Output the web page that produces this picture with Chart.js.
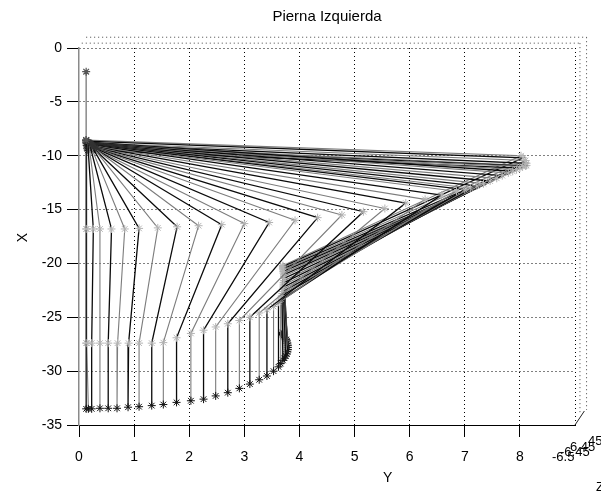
<!DOCTYPE html>
<html>
<head>
<meta charset="utf-8">
<script src="https://cdn.jsdelivr.net/npm/chart.js@4.4.0/dist/chart.umd.min.js"></script>
<style>
html,body{margin:0;padding:0;background:#fff;}
#wrap{width:601px;height:493px;position:relative;}
</style>
</head>
<body>
<div id="wrap"><canvas id="c" width="601" height="493"></canvas></div>
<script>
// ---- data (horizontal = Y, vertical = X) ----
const trunkX = [0.13, 0.13];
const trunkY = [-2.2, -8.55];

const hipX   = [0.13,0.14,0.16,0.18,0.20,0.22,0.25,0.27,0.28,0.30,0.30,0.30,0.30,0.29,0.28,0.27,0.26,0.25,0.24,0.23,0.22,
                0.21,0.21,0.20,0.20,0.19,0.19,0.18,0.18,0.17,0.17,0.16,0.16,0.15,0.15,0.14,0.14,0.13,0.13,0.13];
const hipY   = [-8.55,-8.8,-8.9,-9.0,-9.1,-9.2,-9.3,-9.35,-9.4,-9.4,-9.4,-9.4,-9.35,-9.3,-9.3,-9.25,-9.2,-9.15,-9.1,-9.05,-9.0,
                -9.0,-8.95,-8.95,-8.9,-8.9,-8.85,-8.85,-8.8,-8.8,-8.75,-8.75,-9.5,-9.35,-9.2,-9.05,-8.9,-8.8,-8.65,-8.55];
const kneeX  = [0.13,0.14,0.26,0.38,0.59,0.83,1.09,1.43,1.78,2.17,2.59,3.00,3.45,3.92,4.33,4.77,5.16,5.55,5.93,6.28,6.58,
                6.85,7.00,7.10,7.22,7.34,7.46,7.58,7.68,7.79,7.87,7.94,8.00,8.05,8.10,8.12,8.12,8.10,8.06,8.02];
const kneeY  = [-16.8,-16.8,-16.8,-16.8,-16.8,-16.8,-16.75,-16.7,-16.6,-16.5,-16.4,-16.3,-16.2,-16.0,-15.75,-15.5,-15.2,-14.9,-14.4,-14.05,-13.65,
                -13.3,-13.15,-13.0,-12.8,-12.6,-12.35,-12.1,-11.85,-11.6,-11.45,-11.3,-11.15,-11.0,-10.95,-10.9,-10.7,-10.45,-10.2,-10.0];
const ankleX = [0.13,0.14,0.23,0.38,0.53,0.70,0.90,1.09,1.32,1.53,1.77,2.03,2.26,2.48,2.70,2.91,3.10,3.27,3.41,3.53,3.62,
                3.66,3.68,3.69,3.70,3.70,3.71,3.71,3.71,3.72,3.72,3.72,3.72,3.71,3.71,3.71,3.70,3.70,3.70,3.70];
const ankleY = [-27.4,-27.4,-27.4,-27.4,-27.4,-27.4,-27.4,-27.4,-27.4,-27.35,-26.9,-26.5,-26.2,-25.9,-25.6,-25.3,-25.0,-24.6,-24.3,-24.0,-23.6,
                -23.3,-23.0,-22.8,-22.6,-22.4,-22.2,-22.0,-21.8,-21.6,-21.4,-21.2,-21.05,-20.9,-20.75,-20.6,-20.5,-20.4,-20.3,-20.2];
const footX  = [0.13,0.17,0.23,0.38,0.53,0.69,0.89,1.09,1.32,1.53,1.77,2.03,2.26,2.48,2.70,2.91,3.10,3.27,3.41,3.53,3.62,
                3.66,3.70,3.73,3.75,3.77,3.78,3.79,3.79,3.79,3.78,3.77,3.76,3.74,3.72,3.71,3.70,3.70,3.70,3.70];
const footY  = [-33.5,-33.5,-33.5,-33.45,-33.45,-33.45,-33.35,-33.3,-33.2,-33.1,-32.9,-32.75,-32.6,-32.3,-32.0,-31.6,-31.2,-30.8,-30.45,-30.0,-29.6,
                -29.3,-29.0,-28.8,-28.6,-28.4,-28.2,-28.0,-27.8,-27.6,-27.4,-27.2,-27.05,-26.9,-26.8,-26.7,-26.6,-26.5,-26.45,-26.4];

// 3-D box leftovers (dotted) and z-axis stub
const boxTopX1 = [0.13, 9.21];  const boxTopY1 = [1.0, 1.0];
const boxTopX2 = [0.05, 9.09];  const boxTopY2 = [0.45, 0.45];
const boxSideX1 = [9.09, 9.09]; const boxSideY1 = [0.45, -33.9];
const boxSideX2 = [9.21, 9.21]; const boxSideY2 = [1.0, -33.6];
const zStubX = [9.0, 9.17];     const zStubY = [-35, -33.7];

const xTicks = [0,1,2,3,4,5,6,7,8,9];
const xTickLabels = ['0','1','2','3','4','5','6','7','8',''];
const yTicks = [0,-5,-10,-15,-20,-25,-30,-35];
const yTickLabels = ['0','-5','-10','-15','-20','-25','-30','-35'];
const zTickLabels = ['-6.5','-6.45','6.45','45'];

const titleText = 'Pierna Izquierda';
const xAxisTitle = 'Y';
const yAxisTitle = 'X';
const zAxisTitle = 'Z';

// ---- build datasets ----
const FONT = '"Liberation Sans", Arial, Helvetica, sans-serif';
const pts = (xs, ys) => xs.map((x, i) => ({x: x, y: ys[i]}));
const datasets = [];

function deco(xs, ys, dash, color) {
  datasets.push({
    data: pts(xs, ys), showLine: true, borderColor: color, borderWidth: 1,
    borderDash: dash, pointRadius: 0, clip: false, order: 5
  });
}
deco(boxTopX1, boxTopY1, [1,3], '#444');
deco(boxTopX2, boxTopY2, [1,3], '#444');
deco(boxSideX1, boxSideY1, [1,3], '#444');
deco(boxSideX2, boxSideY2, [1,3], '#444');
deco(zStubX, zStubY, [], '#222');

datasets.push({
  data: pts(trunkX, trunkY), showLine: true, borderColor: '#8a8a8a', borderWidth: 1.5,
  pointStyle: 'star', pointRadius: 4, pointBorderColor: '#555', pointBorderWidth: 1.2, order: 1
});

for (let i = 0; i < hipX.length; i++) {
  const dark = (i % 2 === 0);
  datasets.push({
    data: [
      {x: hipX[i], y: hipY[i]},
      {x: kneeX[i], y: kneeY[i]},
      {x: ankleX[i], y: ankleY[i]},
      {x: footX[i], y: footY[i]}
    ],
    showLine: true, borderColor: dark ? '#0a0a0a' : '#7c7c7c', borderWidth: dark ? 1.3 : 1.1, tension: 0,
    pointStyle: 'star', pointRadius: 4, pointBorderWidth: 1,
    pointBorderColor: ['#333', '#b4b4b4', '#b4b4b4', '#111'],
    pointBackgroundColor: 'rgba(0,0,0,0)',
    order: 2
  });
}

const textPlugin = {
  id: 'texts',
  afterDraw(chart) {
    const c = chart.ctx, a = chart.chartArea;
    const xs = chart.scales.x, ys = chart.scales.y;
    c.save();
    c.fillStyle = '#000';
    c.textBaseline = 'middle';
    c.textAlign = 'center';
    c.font = '15px ' + FONT;
    c.fillText(titleText, (a.left + a.right) / 2, 17);
    c.font = '14px ' + FONT;
    c.fillText(xAxisTitle, xs.getPixelForValue(5.6), 478);
    c.save();
    c.translate(23, ys.getPixelForValue(-17.6));
    c.rotate(-Math.PI / 2);
    c.fillText(yAxisTitle, 0, 0);
    c.restore();
    // overlapping z-axis tick labels
    c.textAlign = 'left';
    c.font = '13px ' + FONT;
    c.fillText(zTickLabels[0], 552, 457);
    c.fillText(zTickLabels[1], 560, 452);
    c.fillText(zTickLabels[2], 570, 447);
    c.fillText(zTickLabels[3], 588, 441);
    c.fillText(zAxisTitle, 596, 487);
    c.restore();
  }
};

new Chart(document.getElementById('c'), {
  type: 'scatter',
  data: { datasets: datasets },
  options: {
    responsive: false, animation: false, devicePixelRatio: 1,
    layout: { padding: { top: 48, right: 26, left: 0, bottom: 0 } },
    plugins: { legend: { display: false }, tooltip: { enabled: false }, title: { display: false } },
    elements: { line: { tension: 0 } },
    scales: {
      x: {
        type: 'linear', min: 0, max: 9,
        afterFit(s) { s.height = 68; },
        afterBuildTicks(s) { s.ticks = xTicks.map(v => ({ value: v })); },
        ticks: {
          font: { family: FONT, size: 14 }, color: '#000', padding: 12,
          maxRotation: 0, autoSkip: false,
          callback: (v) => { const k = xTicks.indexOf(v); return k >= 0 ? xTickLabels[k] : ''; }
        },
        grid: {
          color: (ctx) => (ctx.tick && (ctx.tick.value === 0)) ? 'rgba(0,0,0,0)' : '#000',
          lineWidth: 1, tickLength: 12,
          tickColor: (ctx) => (ctx.tick && ctx.tick.value === 9) ? 'rgba(0,0,0,0)' : '#000'
        },
        border: { display: true, color: '#000', width: 1, dash: [1, 3] }
      },
      y: {
        type: 'linear', min: -35, max: 0,
        afterFit(s) { s.width = 79; },
        afterBuildTicks(s) { s.ticks = yTicks.map(v => ({ value: v })); },
        ticks: {
          font: { family: FONT, size: 14 }, color: '#000', padding: 5,
          autoSkip: false,
          callback: (v) => { const k = yTicks.indexOf(v); return k >= 0 ? yTickLabels[k] : ''; }
        },
        grid: {
          color: (ctx) => (ctx.tick && ctx.tick.value === -35) ? 'rgba(0,0,0,0)' : '#000',
          lineWidth: 1, tickLength: 12, tickColor: '#000'
        },
        border: { display: true, color: '#8a8a8a', width: 1.5, dash: [1, 3] }
      }
    }
  },
  plugins: [textPlugin]
});
</script>
</body>
</html>
